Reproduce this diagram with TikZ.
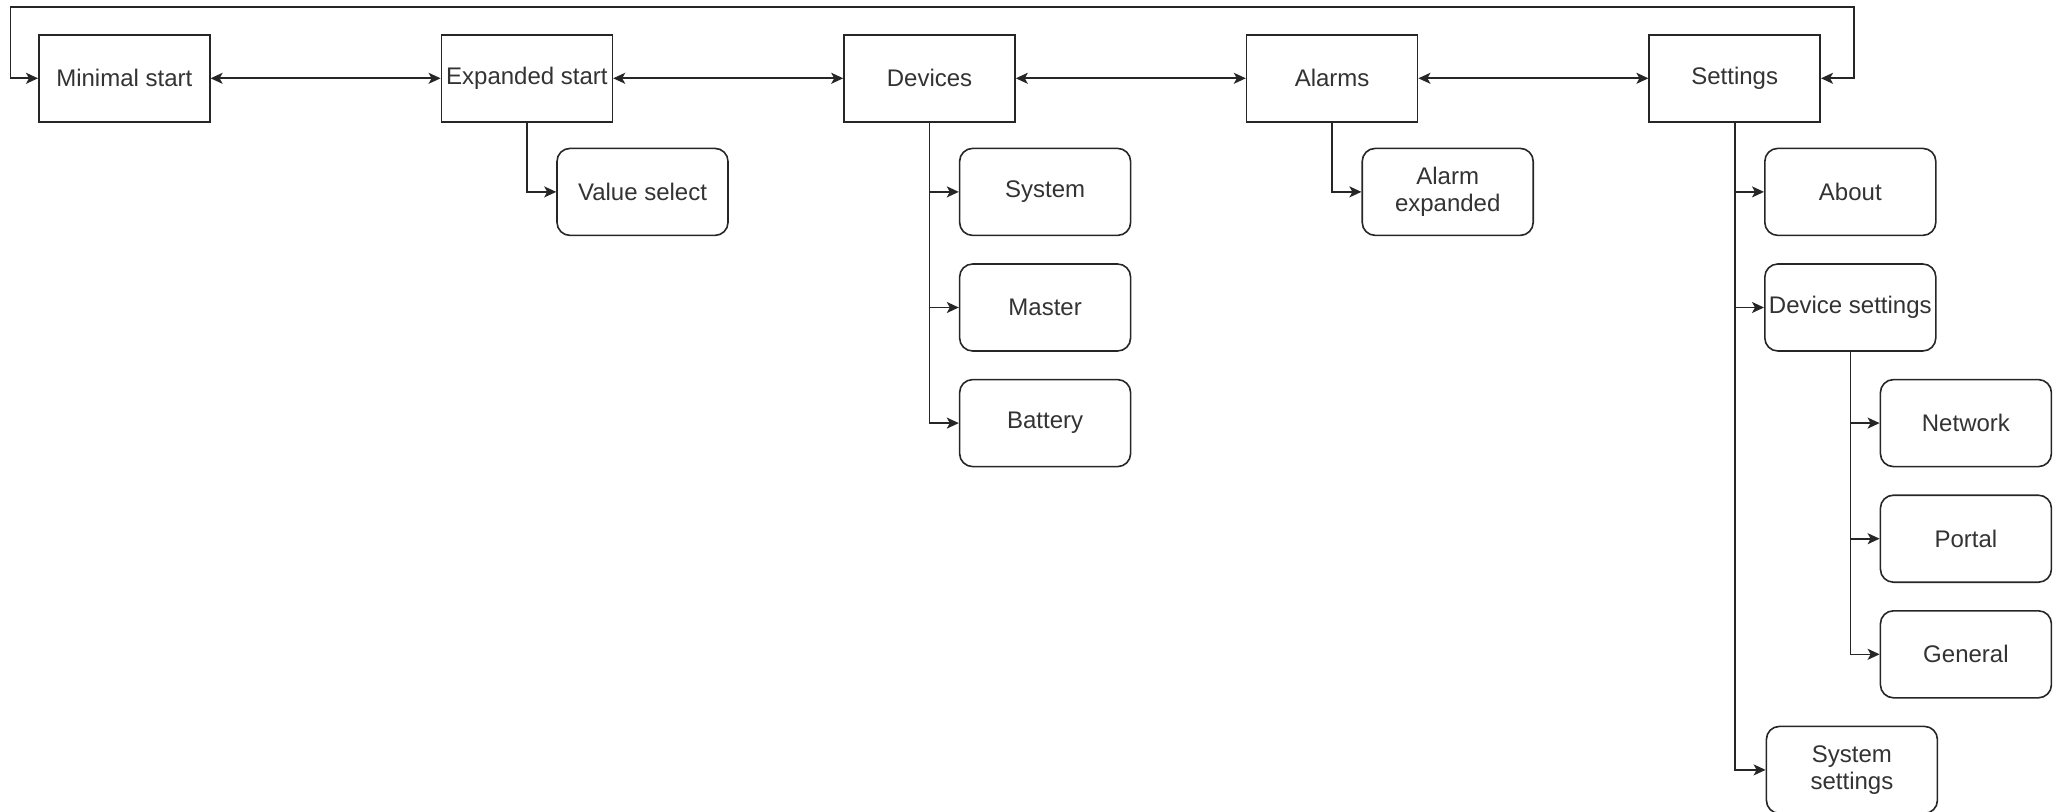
\documentclass[tikz,border=0pt]{standalone}
\usepackage{fontspec}
\setmainfont{Liberation Sans}
\usetikzlibrary{arrows.meta, calc, positioning}

\begin{document}
\begin{tikzpicture}[node distance=13.5pt and 115pt]
  \colorlet{txtcol}{black!80}
  \tikzset{
    screen/.style={rectangle, minimum width=85.5pt, minimum height=43.5pt,
      inner sep=1pt, align=center, text=txtcol,
      font=\fontsize{12}{13.5}\selectfont,
      draw=black!85, line width=0.8pt, fill=white},
    topbox/.style={screen},
    subbox/.style={screen, rounded corners=6.5pt},
    arr/.style={-{Stealth[length=6pt, width=5.5pt, inset=1.5pt]}, line width=0.8pt, color=black!85},
    biarr/.style={{Stealth[length=6pt, width=5.5pt, inset=1.5pt]}-{Stealth[length=6pt, width=5.5pt, inset=1.5pt]}, line width=0.8pt, color=black!85}
  }
  \useasboundingbox (0,0) rectangle (1030pt,-406pt);
  % main screens
  \node[topbox, anchor=north west] (minst) at (19pt,-17pt) {Minimal start};
  \node[topbox, right=of minst] (expst) {Expanded start};
  \node[topbox, right=of expst] (devs) {Devices};
  \node[topbox, right=of devs] (alarms) {Alarms};
  \node[topbox, right=of alarms] (sett) {Settings};
  % sub screens
  \node[subbox, below right=12.5pt and -28.5pt of expst] (valsel) {Value select};
  \node[subbox, below right=12.5pt and -28.5pt of devs] (sys) {System};
  \node[subbox, below=of sys] (master) {Master};
  \node[subbox, below=of master] (batt) {Battery};
  \node[subbox, below right=12.5pt and -28.5pt of alarms] (alexp) {Alarm\\expanded};
  \node[subbox, below right=12.5pt and -28.5pt of sett] (about) {About};
  \node[subbox, below=of about] (devset) {Device settings};
  \node[subbox, below right=13.5pt and -28.5pt of devset] (netw) {Network};
  \node[subbox, below=of netw] (portal) {Portal};
  \node[subbox, below=of portal] (general) {General};
  \node[subbox, below=of general, xshift=-57pt] (sysset) {System\\settings};
  % navigation between main screens
  \draw[biarr] (minst) -- (expst);
  \draw[biarr] (expst) -- (devs);
  \draw[biarr] (devs) -- (alarms);
  \draw[biarr] (alarms) -- (sett);
  \draw[biarr] (minst.west) -| ++(-13.75pt,35.5pt) -| ($(sett.east)+(16.5pt,0)$) -- (sett.east);
  % branches
  \draw[arr] (expst.south) |- (valsel.west);
  \draw[arr] (devs.south) |- (sys.west);
  \draw[arr] (devs.south) |- (master.west);
  \draw[arr] (devs.south) |- (batt.west);
  \draw[arr] (alarms.south) |- (alexp.west);
  \draw[arr] (sett.south) |- (about.west);
  \draw[arr] (sett.south) |- (devset.west);
  \draw[arr] (sett.south) |- (sysset.west);
  \draw[arr] (devset.south) |- (netw.west);
  \draw[arr] (devset.south) |- (portal.west);
  \draw[arr] (devset.south) |- (general.west);
\end{tikzpicture}
\end{document}
